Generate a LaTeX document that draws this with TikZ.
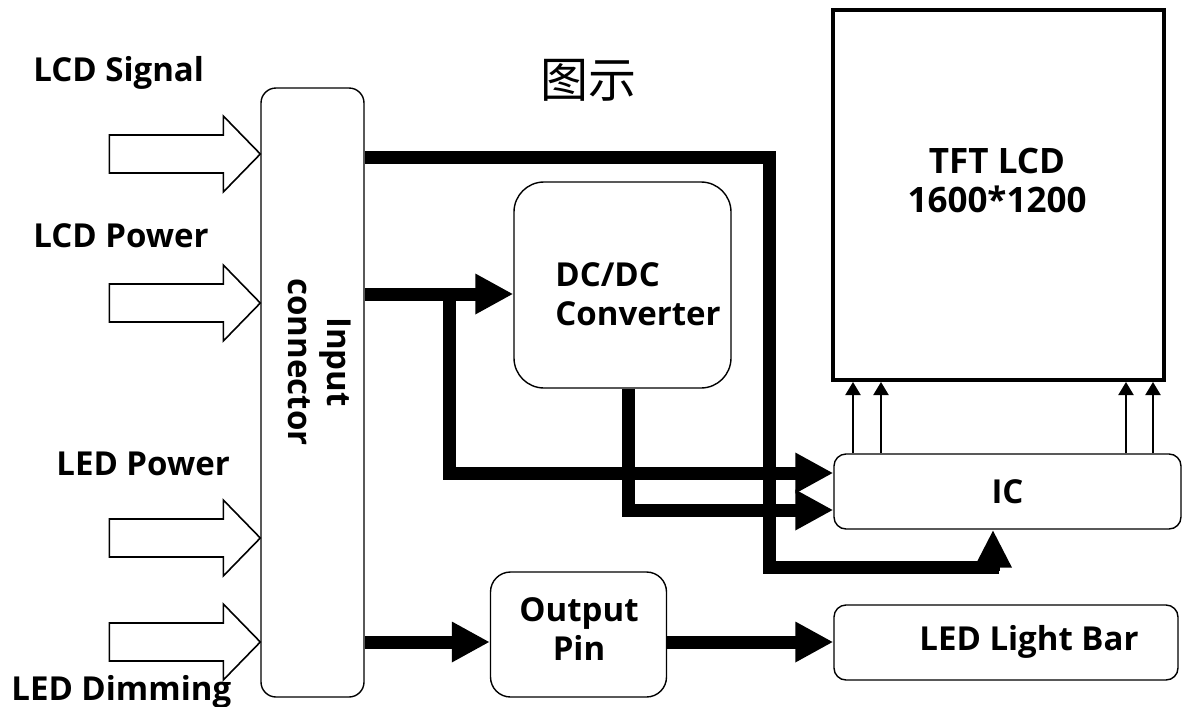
\documentclass[tikz,border=0pt]{standalone}
\usepackage{fontspec}
\setmainfont{Open Sans}
\newfontfamily\cjkfont{Noto Sans CJK SC}
\usetikzlibrary{arrows.meta}

\tikzset{
  box/.style={draw, line width=0.7pt, rounded corners=#1, fill=white, inner sep=0pt},
  box/.default=6pt,
  bus/.style={line width=6.5pt},
  bushead/.style={-{Triangle[length=19pt,width=19pt]}},
  pin/.style={line width=1pt, -{Triangle[length=6.5pt,width=7.5pt]}},
  inarrow/.style={draw, line width=0.8pt, line join=miter},
  lbl/.style={font=\fontsize{16.5}{19}\selectfont\bfseries, inner sep=0pt},
  txt/.style={font=\fontsize{16.5}{19.5}\selectfont\bfseries, align=center, inner sep=0pt},
}

\begin{document}
\begin{tikzpicture}[x=0.5pt,y=-0.5pt]
  \useasboundingbox (0,0) rectangle (1184,707);

  % blocks
  \node[box=7.5pt, minimum width=51.5pt, minimum height=304.5pt] (conn) at (312.5,392.5) {};
  \node[txt, rotate=-90] (conntext) at (320,362) {Input\\connector};
  \node[box=15pt, minimum width=108.5pt, minimum height=103pt] (dcdc) at (622.5,285) {};
  \node[txt, align=left] (dcdctext) at (638,294) {DC/DC\\Converter};
  \node[draw, line width=2pt, minimum width=165.5pt, minimum height=185pt] (tft) at (998.5,195) {};
  \node[txt, font=\fontsize{17.5}{19.5}\selectfont\bfseries] (tfttext) at (997,180) {TFT LCD\\1600*1200};
  \node[box=6pt, minimum width=173.5pt, minimum height=37.5pt, txt] (ic) at (1007.5,491.5) {IC};
  \node[box=10pt, minimum width=88pt, minimum height=62.5pt] (outpin) at (578.5,634.5) {};
  \node[txt] (outpintext) at (579,629) {Output\\Pin};
  \node[box=6pt, minimum width=172pt, minimum height=37.5pt] (ledbar) at (1006,642.5) {};
  \node[txt] (bartext) at (1029,642) {LED Light Bar};

  \node[font=\cjkfont\fontsize{24}{24}\selectfont] (title) at (588,80) {图示};

  % inputs
  \node[lbl, anchor=base west] (lcdsig) at (33,81) {LCD Signal};
  \node[lbl, anchor=base west] (lcdpow) at (33,247) {LCD Power};
  \node[lbl, anchor=base west] (ledpow) at (56,475) {LED Power};
  \node[lbl, anchor=base west] (leddim) at (11,700) {LED Dimming};
  \foreach \y in {154,303,538,642}
    \draw[inarrow] (conn.west |- 0,\y) -- ++(-37,-38) -- ++(0,19) -- ++(-114,0)
      -- ++(0,38) -- ++(114,0) -- ++(0,19) -- cycle;

  % buses
  \coordinate (bend) at (769,567);
  \draw[bus] (conn.east |- 0,157) -| (bend) -- (999,567);
  \draw[bus, -{Triangle[length=19pt,width=17.5pt]}] (993,571) -- (ic.south -| 993,0);
  \draw[bus, bushead] (conn.east |- 0,294) -- (dcdc.west |- 0,294);
  \draw[bus, bushead] (449,288) |- (ic.west |- 0,473);
  \draw[bus, bushead] (dcdc.south -| 628,0) |- (ic.west |- 0,510);
  \draw[bus, bushead] (conn.east |- 0,642) -- (outpin.west |- 0,642);
  \draw[bus, bushead] (outpin.east |- 0,642) -- (ledbar.west |- 0,642);

  % IC to panel
  \foreach \x in {853,881,1126,1153}
    \draw[pin] (ic.north -| \x,0) -- (tft.south -| \x,0);
\end{tikzpicture}
\end{document}
